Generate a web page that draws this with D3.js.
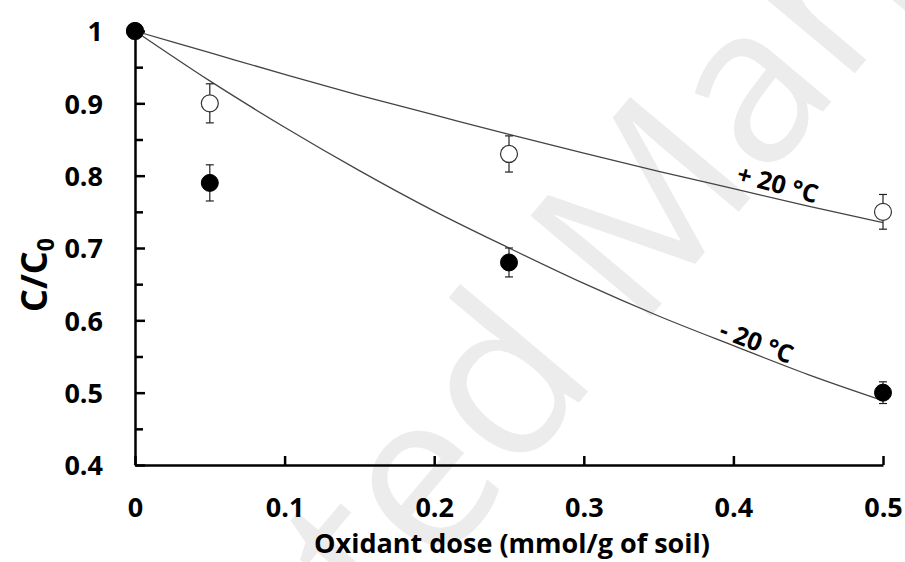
<!DOCTYPE html>
<html>
<head>
<meta charset="utf-8">
<script src="https://cdn.jsdelivr.net/npm/d3@7"></script>
<style>
  html, body { margin: 0; padding: 0; background: #fff; }
  svg { display: block; font-family: "Open Sans", sans-serif; }
  .axis path, .axis line { stroke: #000; stroke-width: 2.5; }
  .axis text { font-family: "Open Sans", sans-serif; font-size: 27px; font-weight: bold; fill: #000; }
</style>
</head>
<body>
<script>
// measured points
var doses = [0, 0.05, 0.25, 0.5];
var warmVals = [1, 0.90, 0.83, 0.75];
var warmErr = [0, 0.027, 0.025, 0.024];
var coldVals = [1, 0.79, 0.68, 0.50];
var coldErr = [0, 0.025, 0.02, 0.015];

// fitted curves
var fitDoses = [0, 0.05, 0.1, 0.15, 0.2, 0.25, 0.3, 0.35, 0.4, 0.45, 0.5];
var warmFit = [1, 0.970, 0.940, 0.911, 0.884, 0.857, 0.831, 0.806, 0.782, 0.758, 0.735];
var coldFit = [1, 0.931, 0.867, 0.807, 0.751, 0.700, 0.651, 0.606, 0.565, 0.525, 0.489];

var xTicks = [0, 0.1, 0.2, 0.3, 0.4, 0.5];
var yTicks = [0.4, 0.5, 0.6, 0.7, 0.8, 0.9, 1];
var yMinor = [0.45, 0.55, 0.65, 0.75, 0.85, 0.95];

var width = 905, height = 562;

var svg = d3.select("body").append("svg")
    .attr("width", width).attr("height", height);

// watermark
svg.append("text")
    .attr("transform", "translate(622,218) rotate(-50)")
    .attr("text-anchor", "middle")
    .attr("dominant-baseline", "central")
    .style("font-size", "220px")
    .style("fill", "#ececec")
    .text("Accepted Manuscript");

var x = d3.scaleLinear().domain([0, 0.5]).range([135, 883]);
var y = d3.scaleLinear().domain([0.4, 1]).range([465, 31]);

var fmt = function(d){ return String(+d.toFixed(2)); };

svg.append("g").attr("class", "axis")
    .attr("transform", "translate(0,465)")
    .call(d3.axisBottom(x).tickValues(xTicks).tickFormat(fmt)
      .tickSizeInner(-9).tickSizeOuter(0).tickPadding(33));

svg.append("g").attr("class", "axis")
    .attr("transform", "translate(135,0)")
    .call(d3.axisLeft(y).tickValues(yTicks).tickFormat(fmt)
      .tickSizeInner(-10).tickSizeOuter(0).tickPadding(32))
    .selectAll(".tick text").attr("dy", "0.36em");

svg.append("g").attr("class", "axis")
    .attr("transform", "translate(135,0)")
    .call(d3.axisLeft(y).tickValues(yMinor).tickFormat("")
      .tickSizeInner(-8).tickSizeOuter(0))
    .select(".domain").remove();

svg.selectAll(".axis .tick text").style("font-size", "27px");

// fit lines
var line = d3.line()
    .x(function(d){ return x(d[0]); })
    .y(function(d){ return y(d[1]); })
    .curve(d3.curveMonotoneX);

[warmFit, coldFit].forEach(function(vals){
  svg.append("path")
      .datum(fitDoses.map(function(d, i){ return [d, vals[i]]; }))
      .attr("d", line)
      .attr("fill", "none")
      .attr("stroke", "#444")
      .attr("stroke-width", 1.3);
});

// error bars + points
function drawSeries(vals, errs, filled){
  var g = svg.append("g");
  var pts = doses.map(function(d, i){ return {x: d, v: vals[i], e: errs[i]}; })
      .filter(function(d){ return d.e > 0; });
  var bars = g.selectAll(".eb").data(pts).enter().append("g");
  bars.append("line")
      .attr("x1", function(d){ return x(d.x); })
      .attr("x2", function(d){ return x(d.x); })
      .attr("y1", function(d){ return y(d.v + d.e); })
      .attr("y2", function(d){ return y(d.v - d.e); });
  bars.append("line")
      .attr("x1", function(d){ return x(d.x) - 4; })
      .attr("x2", function(d){ return x(d.x) + 4; })
      .attr("y1", function(d){ return y(d.v + d.e); })
      .attr("y2", function(d){ return y(d.v + d.e); });
  bars.append("line")
      .attr("x1", function(d){ return x(d.x) - 4; })
      .attr("x2", function(d){ return x(d.x) + 4; })
      .attr("y1", function(d){ return y(d.v - d.e); })
      .attr("y2", function(d){ return y(d.v - d.e); });
  bars.selectAll("line").attr("stroke", "#222").attr("stroke-width", 1.2);

  g.selectAll("circle").data(doses).enter().append("circle")
      .attr("cx", function(d){ return x(d); })
      .attr("cy", function(d, i){ return y(vals[i]); })
      .attr("r", 8.5)
      .attr("fill", filled ? "#000" : "#fff")
      .attr("stroke", filled ? "#000" : "#333")
      .attr("stroke-width", filled ? 1 : 1.2);
}
drawSeries(warmVals, warmErr, false);
drawSeries(coldVals, coldErr, true);

// curve labels
svg.append("text")
    .attr("transform", "translate(778,183) rotate(15)")
    .attr("text-anchor", "middle")
    .attr("dominant-baseline", "central")
    .style("font-size", "25px").style("font-weight", "bold")
    .text("+ 20 °C");

svg.append("text")
    .attr("transform", "translate(757,341) rotate(21)")
    .attr("text-anchor", "middle")
    .attr("dominant-baseline", "central")
    .style("font-size", "25px").style("font-weight", "bold")
    .text("- 20 °C");

// axis titles
svg.append("text")
    .attr("x", 512).attr("y", 553)
    .attr("text-anchor", "middle")
    .style("font-size", "27px").style("font-weight", "bold")
    .text("Oxidant dose (mmol/g of soil)");

var yt = svg.append("text")
    .attr("transform", "translate(47,275) rotate(-90)")
    .attr("text-anchor", "middle")
    .style("font-size", "36px").style("font-weight", "bold");
yt.append("tspan").text("C/C");
yt.append("tspan").attr("dy", "0.3em").style("font-size", "23px").text("0");
</script>
</body>
</html>
